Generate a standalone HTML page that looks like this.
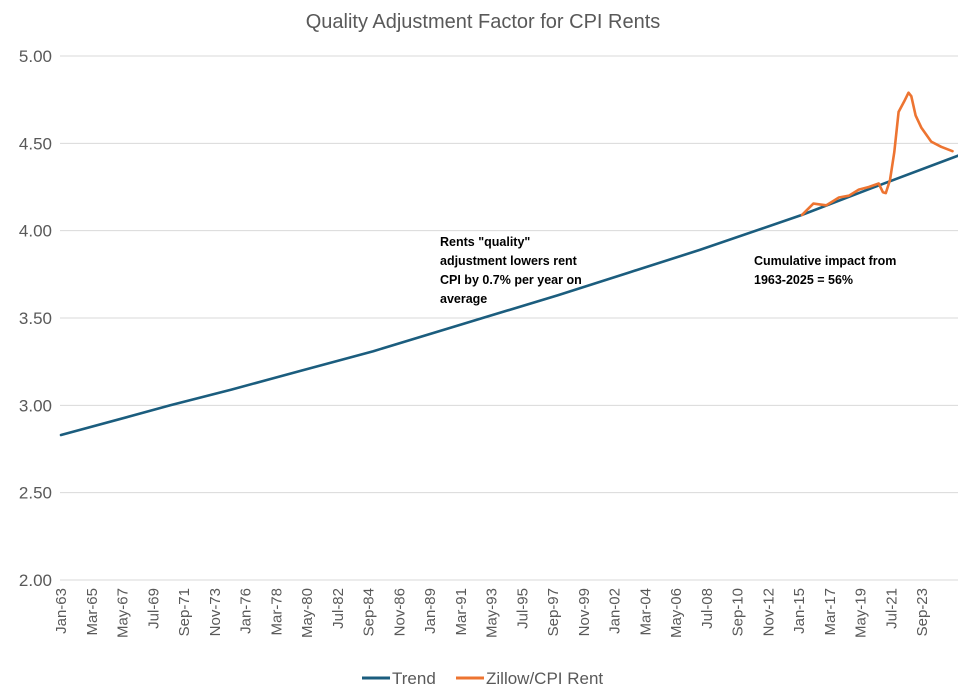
<!DOCTYPE html>
<html><head><meta charset="utf-8"><style>
body{margin:0;background:#fff;}
svg{display:block;font-family:"Liberation Sans",sans-serif;}
</style></head><body>
<svg id="chart" width="958" height="696" viewBox="0 0 958 696">
<text x="483" y="28" text-anchor="middle" font-size="20" fill="#595959">Quality Adjustment Factor for CPI Rents</text>
<g id="grid"></g><g id="yticks"></g><g id="xticks"></g><g id="series"></g>
<g font-size="12.5" font-weight="bold" fill="#000">
<text x="440" y="246">Rents "quality"</text>
<text x="440" y="265">adjustment lowers rent</text>
<text x="440" y="284">CPI by 0.7% per year on</text>
<text x="440" y="303">average</text>
</g>
<g font-size="12.5" font-weight="bold" fill="#000">
<text x="754" y="265">Cumulative impact from</text>
<text x="754" y="284">1963-2025 = 56%</text>
</g>
<g>
<g><line x1="362" y1="678" x2="390" y2="678" stroke="#1b5d7e" stroke-width="3"/><text x="392" y="684" font-size="17" fill="#595959">Trend</text></g>
<g><line x1="456" y1="678" x2="484" y2="678" stroke="#ed7431" stroke-width="3"/><text x="486" y="684" font-size="17" fill="#595959">Zillow/CPI Rent</text></g>
</g>
</svg>
<script>
const yTickValues=[2.00,2.50,3.00,3.50,4.00,4.50,5.00];
const xTickLabels=["Jan-63","Mar-65","May-67","Jul-69","Sep-71","Nov-73","Jan-76","Mar-78","May-80","Jul-82","Sep-84","Nov-86","Jan-89","Mar-91","May-93","Jul-95","Sep-97","Nov-99","Jan-02","Mar-04","May-06","Jul-08","Sep-10","Nov-12","Jan-15","Mar-17","May-19","Jul-21","Sep-23"];
const trendYears=[1963,1968,1970.7,1975,1980,1985,1992.7,1998,2003,2008,2015.2,2020,2026.2];
const trendValues=[2.83,2.94,3.00,3.09,3.20,3.31,3.50,3.63,3.76,3.89,4.09,4.24,4.43];
const zillowYears=[2015.2,2016.0,2016.9,2017.4,2017.8,2018.5,2019.2,2019.9,2020.6,2020.9,2021.1,2021.4,2021.7,2022.0,2022.4,2022.7,2022.9,2023.2,2023.6,2024.3,2025.0,2025.8];
const zillowValues=[4.09,4.155,4.145,4.17,4.19,4.20,4.235,4.25,4.27,4.22,4.215,4.29,4.45,4.68,4.74,4.79,4.77,4.66,4.59,4.51,4.48,4.455];

const NS="http://www.w3.org/2000/svg";
const X0=61,PX_PER_YEAR=1.183*12;
function xs(yr){return X0+(yr-1963)*PX_PER_YEAR;}
function ys(v){return 580-(v-2)*(524/3);}
function mk(tag,attrs,parent){const e=document.createElementNS(NS,tag);for(const k in attrs)e.setAttribute(k,attrs[k]);parent.appendChild(e);return e;}
const grid=document.getElementById('grid'),yt=document.getElementById('yticks'),xt=document.getElementById('xticks'),ser=document.getElementById('series');
yTickValues.forEach(v=>{
 const l=mk('line',{x1:60,x2:958,y1:ys(v),y2:ys(v),stroke:'#d9d9d9','stroke-width':1},grid);
 
 
 const t=mk('text',{x:52,y:ys(v)+6,'text-anchor':'end','font-size':17,fill:'#595959'},yt);
 
 
 t.textContent=v.toFixed(2);
});
xTickLabels.forEach((s,i)=>{
 const x=X0+i*26*1.183+5;
 const t=mk('text',{x:0,y:0,transform:`translate(${x},588) rotate(-90)`,'text-anchor':'end','font-size':15,fill:'#595959'},xt);
 
 
 t.textContent=s;
});
function line(xsA,vs,color,name){
 const d=xsA.map((yr,i)=>(i?'L':'M')+xs(yr).toFixed(1)+','+ys(vs[i]).toFixed(1)).join(' ');
 const p=mk('path',{d:d,fill:'none',stroke:color,'stroke-width':2.6,'stroke-linejoin':'round','stroke-linecap':'round'},ser);
 
 
}
line(trendYears,trendValues,'#1b5d7e','trend-line');
line(zillowYears,zillowValues,'#ed7431','zillow-cpi-rent-line');
</script>
</body></html>
